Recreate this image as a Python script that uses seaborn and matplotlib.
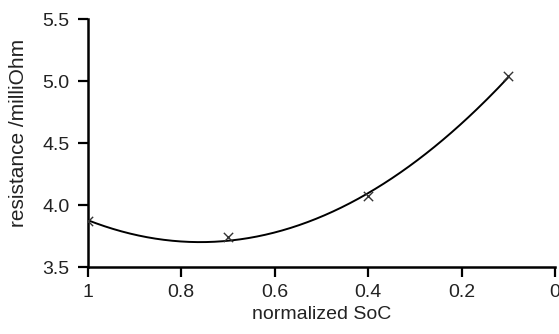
import numpy as np
import pandas as pd
import matplotlib
matplotlib.use("Agg")
import matplotlib.pyplot as plt
import seaborn as sns

soc = [1.0, 0.7, 0.4, 0.1]
resistance = [3.87, 3.74, 4.07, 5.04]

x_ticks = [1, 0.8, 0.6, 0.4, 0.2, 0]
x_tick_labels = ["1", "0.8", "0.6", "0.4", "0.2", "0"]
y_ticks = [3.5, 4.0, 4.5, 5.0, 5.5]
y_tick_labels = ["3.5", "4.0", "4.5", "5.0", "5.5"]

df = pd.DataFrame({"soc": soc, "resistance": resistance})

# quadratic trend line through the measured points
coef = np.polyfit(df["soc"], df["resistance"], 2)
x_fit = np.linspace(min(soc), max(soc), 200)
fit = pd.DataFrame({"soc": x_fit, "resistance": np.polyval(coef, x_fit)})

sns.set_style("ticks")
plt.rcParams["font.family"] = ["Liberation Sans", "DejaVu Sans"]

fig = plt.figure(figsize=(5.59, 3.34), dpi=100)
ax = fig.add_axes([0.157, 0.2, 0.836, 0.743])

sns.lineplot(data=fit, x="soc", y="resistance", color="black", linewidth=1.4, ax=ax)
sns.scatterplot(data=df, x="soc", y="resistance", marker="x", color="#333333",
                s=45, linewidth=1.0, ax=ax, zorder=3)

ax.set_xlim(1, 0)
ax.set_ylim(3.5, 5.5)
ax.set_xticks(x_ticks)
ax.set_xticklabels(x_tick_labels)
ax.set_yticks(y_ticks)
ax.set_yticklabels(y_tick_labels)
ax.set_xlabel("normalized SoC", fontsize=14, labelpad=4, color="#222222")
ax.set_ylabel("resistance /milliOhm", fontsize=15, color="#222222")
ax.yaxis.set_label_coords(-0.128, 0.54)
ax.tick_params(axis="both", labelsize=14, length=7, width=1.6, colors="black",
               labelcolor="#222222")
ax.tick_params(axis="x", pad=5)
ax.tick_params(axis="y", pad=6)

for side in ["top", "right"]:
    ax.spines[side].set_visible(False)
for side in ["left", "bottom"]:
    ax.spines[side].set_linewidth(1.8)
    ax.spines[side].set_color("black")

fig.savefig("out.png", dpi=100)
